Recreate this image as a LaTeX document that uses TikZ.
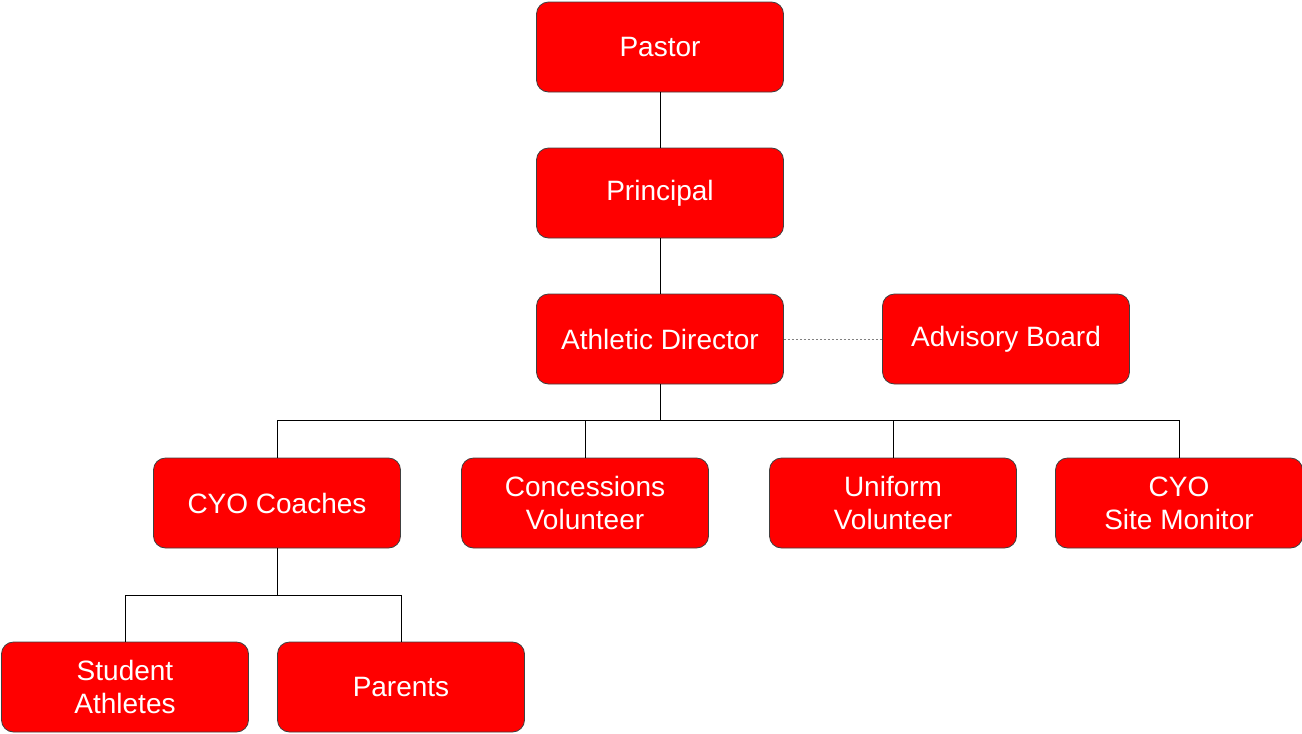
\documentclass[tikz,border=0pt]{standalone}
\usepackage{fontspec}
\setmainfont{Liberation Sans}
\begin{document}
\begin{tikzpicture}[x=1pt,y=-1pt,
    box/.style={draw=black!75, fill=red, rounded corners=12pt, line width=0.8pt,
      minimum width=247pt, minimum height=90pt, inner sep=0pt,
      text=white, align=center, font=\fontsize{28}{33}\selectfont}]
    \useasboundingbox (0,0) rectangle (1302,734);

    \node[box] (pastor)    at ( 660,47)  {Pastor};
    \node[box] (principal) at ( 660,193) {Principal};
    \node[box] (director)  at ( 660,339) {Athletic Director};
    \node[box] (advisory)  at (1006,339) {Advisory Board};
    \node[box] (coaches)   at ( 277,503) {CYO Coaches};
    \node[box] (concess)   at ( 585,503) {Concessions\\Volunteer};
    \node[box] (uniform)   at ( 893,503) {Uniform\\Volunteer};
    \node[box] (monitor)   at (1179,503) {CYO\\Site Monitor};
    \node[box] (students)  at ( 125,687) {Student\\Athletes};
    \node[box] (parents)   at ( 401,687) {Parents};

    \coordinate (bus1) at (660,420);
    \coordinate (bus2) at (277,595);

    \begin{scope}[every path/.style={line width=1pt}]
       \draw (pastor) -- (principal);
       \draw (principal) -- (director);
       \draw (director) -- (bus1);
       \draw (bus1) -| (coaches);
       \draw (bus1) -| (concess);
       \draw (bus1) -| (uniform);
       \draw (bus1) -| (monitor);
       \draw (coaches) -- (bus2);
       \draw (bus2) -| (students);
       \draw (bus2) -| (parents);
    \end{scope}

    \draw[gray, dash pattern=on 2pt off 2pt] (director) -- (advisory);

\end{tikzpicture}
\end{document}
